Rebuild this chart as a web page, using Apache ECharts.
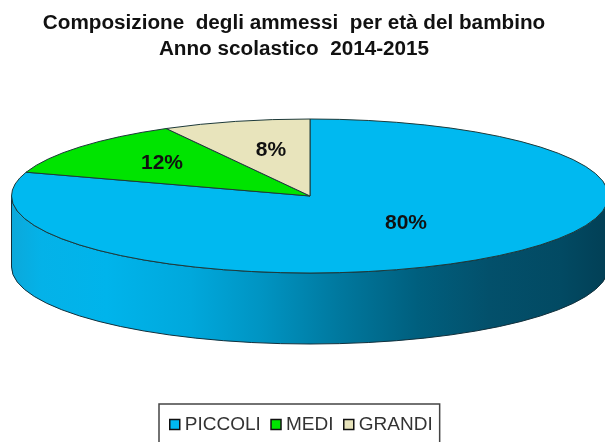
<!DOCTYPE html>
<html>
<head>
<meta charset="utf-8">
<style>html,body{margin:0;padding:0;background:#fff;overflow:hidden}#c{width:605px;height:442px}</style>
<script src="https://cdn.jsdelivr.net/npm/echarts@6/dist/echarts.min.js"></script>
</head>
<body>
<div id="c"></div>
<script>
const categories = ['PICCOLI', 'MEDI', 'GRANDI'];
const values = [80, 12, 8];
const colors = ['#00B9F0', '#00E400', '#E8E4BC'];
const titleText = 'Composizione  degli ammessi  per età del bambino\nAnno scolastico  2014-2015';

const CX = 310, CY = 196, RX = 298.5, RY = 77, DEPTH = 71;
const labelOffsets = [[96, 27], [-148, -33], [-39, -46]];
const wallStops = [
  [0, '#0CA8DA'], [0.05, '#04B2E8'], [0.16, '#00B4EB'], [0.3, '#00A8DC'],
  [0.42, '#0094C2'], [0.55, '#00789E'], [0.68, '#005F7E'], [0.8, '#03506B'],
  [0.92, '#024A63'], [1, '#023F55']
];

const total = values.reduce((a, b) => a + b, 0);
function pt(deg, dy) {
  const t = deg * Math.PI / 180;
  return [CX + RX * Math.sin(t), CY - RY * Math.cos(t) + (dy || 0)];
}
function renderSlice(i) {
  const before = values.slice(0, i).reduce((a, b) => a + b, 0);
  return function (params, api) {
    const a0 = before / total * 360;
    const a1 = a0 + api.value(0) / total * 360;
    const p0 = pt(a0), p1 = pt(a1);
    const large = a1 - a0 > 180 ? 1 : 0;
    const children = [];
    const w0 = Math.max(a0, 90), w1 = Math.min(a1, 270);
    if (w1 > w0) {
      const s = pt(w0), e = pt(w1), sb = pt(w0, DEPTH), eb = pt(w1, DEPTH);
      children.push({
        type: 'path',
        shape: { pathData: `M${s[0]} ${s[1]}A${RX} ${RY} 0 0 1 ${e[0]} ${e[1]}L${eb[0]} ${eb[1]}A${RX} ${RY} 0 0 0 ${sb[0]} ${sb[1]}Z` },
        style: {
          fill: { type: 'linear', x: 0, y: 0, x2: 1, y2: 0, global: false,
            colorStops: wallStops.map(s => ({ offset: s[0], color: s[1] })) },
          stroke: '#12303C', lineWidth: 1
        }
      });
    }
    children.push({
      type: 'path',
      shape: { pathData: `M${CX} ${CY}L${p0[0]} ${p0[1]}A${RX} ${RY} 0 ${large} 1 ${p1[0]} ${p1[1]}Z` },
      style: { fill: colors[i], stroke: '#1E3A3A', lineWidth: 1 }
    });
    children.push({
      type: 'text',
      x: CX + labelOffsets[i][0], y: CY + labelOffsets[i][1],
      style: {
        text: api.value(0) + '%',
        x: 0, y: 0, align: 'center', verticalAlign: 'middle',
        font: 'bold 21px "Liberation Sans", Arial, sans-serif', fill: '#111'
      }
    });
    return { type: 'group', children };
  };
}

const chart = echarts.init(document.getElementById('c'), null, { renderer: 'canvas' });
chart.setOption({
  animation: false,
  backgroundColor: '#fff',
  title: {
    text: titleText,
    left: 289, top: 6, textAlign: 'center',
    textStyle: { fontFamily: '"Liberation Sans", Arial, sans-serif', fontWeight: 'bold', fontSize: 20.7, lineHeight: 25.5, color: '#111' }
  },
  legend: {
    data: categories.map((name, i) => ({ name, icon: 'rect', itemStyle: { color: colors[i], borderColor: '#111', borderWidth: 1.5 } })),
    orient: 'horizontal',
    left: 159, top: 404,
    padding: [11, 7, 14, 10],
    itemWidth: 10, itemHeight: 10, itemGap: 9.5,
    selectedMode: false,
    borderColor: '#444', borderWidth: 1.5,
    textStyle: { fontFamily: '"Liberation Sans", Arial, sans-serif', fontSize: 19, color: '#333' }
  },
  series: categories.map((name, i) => ({
    type: 'custom', name,
    coordinateSystem: 'none',
    silent: true,
    itemStyle: { color: colors[i] },
    data: [[values[i]]],
    renderItem: renderSlice(i)
  }))
});
</script>
</body>
</html>
